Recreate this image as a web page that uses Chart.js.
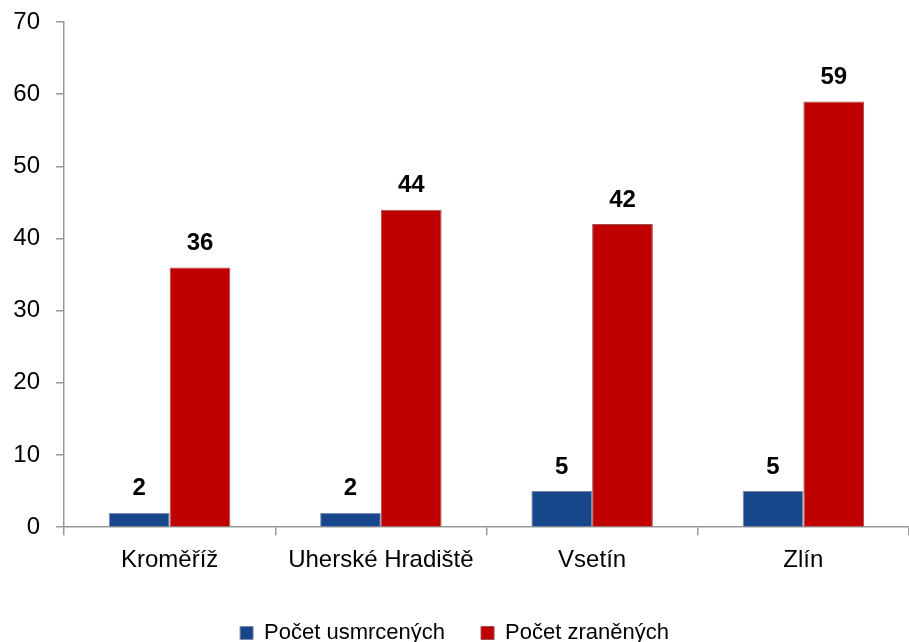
<!DOCTYPE html>
<html><head><meta charset="utf-8">
<script src="https://cdn.jsdelivr.net/npm/chart.js@4"></script>
<style>html,body{margin:0;padding:0;background:#fff;}#wrap{width:909px;height:642px;}</style>
</head><body><div id="wrap"><canvas id="c" width="909" height="642"></canvas></div>
<script>
const categories = ["Kroměříž", "Uherské Hradiště", "Vsetín", "Zlín"];
const killed = [2, 2, 5, 5];
const injured = [36, 44, 42, 59];
const seriesNames = ["Počet usmrcených", "Počet zraněných"];
const yTicks = [0, 10, 20, 30, 40, 50, 60, 70];

const FONT = '"Liberation Sans", Arial, sans-serif';

const labelPlugin = {
  id: 'valLabels',
  afterDatasetsDraw(chart) {
    const ctx = chart.ctx;
    ctx.save();
    ctx.font = 'bold 24px ' + FONT;
    ctx.fillStyle = '#000';
    ctx.textAlign = 'center';
    ctx.textBaseline = 'middle';
    chart.data.datasets.forEach((ds, i) => {
      chart.getDatasetMeta(i).data.forEach((bar, j) => {
        ctx.fillText(String(ds.data[j]), bar.x, bar.y - 24);
      });
    });
    ctx.restore();
  }
};

new Chart(document.getElementById('c'), {
  type: 'bar',
  data: {
    labels: categories,
    datasets: [
      { label: seriesNames[0], data: killed, backgroundColor: '#17468A', borderColor: '#7A8AA8', borderWidth: 1 },
      { label: seriesNames[1], data: injured, backgroundColor: '#C00000', borderColor: '#A05050', borderWidth: 1 }
    ]
  },
  options: {
    responsive: false,
    animation: false,
    layout: { padding: { top: 22, right: 0, left: 0, bottom: -12 } },
    datasets: { bar: { categoryPercentage: 0.575, barPercentage: 1.0 } },
    plugins: {
      legend: {
        position: 'bottom',
        labels: {
          boxWidth: 13, boxHeight: 13, padding: 36,
          color: '#000',
          font: { size: 22, family: FONT }
        }
      },
      tooltip: { enabled: false }
    },
    scales: {
      x: {
        offset: true,
        grid: { offset: true, drawOnChartArea: false, drawTicks: true, tickLength: 8, color: '#999', lineWidth: 1.5 },
        border: { color: '#999', width: 1.5 },
        ticks: { color: '#000', padding: 11, font: { size: 24, family: FONT } }
      },
      y: {
        min: 0, max: 70,
        afterBuildTicks(axis) { axis.ticks = yTicks.map(v => ({ value: v })); },
        afterFit(axis) { axis.width = 64; axis.paddingTop = 0; },
        grid: { drawOnChartArea: false, drawTicks: true, tickLength: 8, color: '#999', lineWidth: 1.5 },
        border: { color: '#999', width: 1.5 },
        ticks: { color: '#000', padding: 16, font: { size: 24, family: FONT } }
      }
    }
  },
  plugins: [labelPlugin]
});
</script></body></html>
